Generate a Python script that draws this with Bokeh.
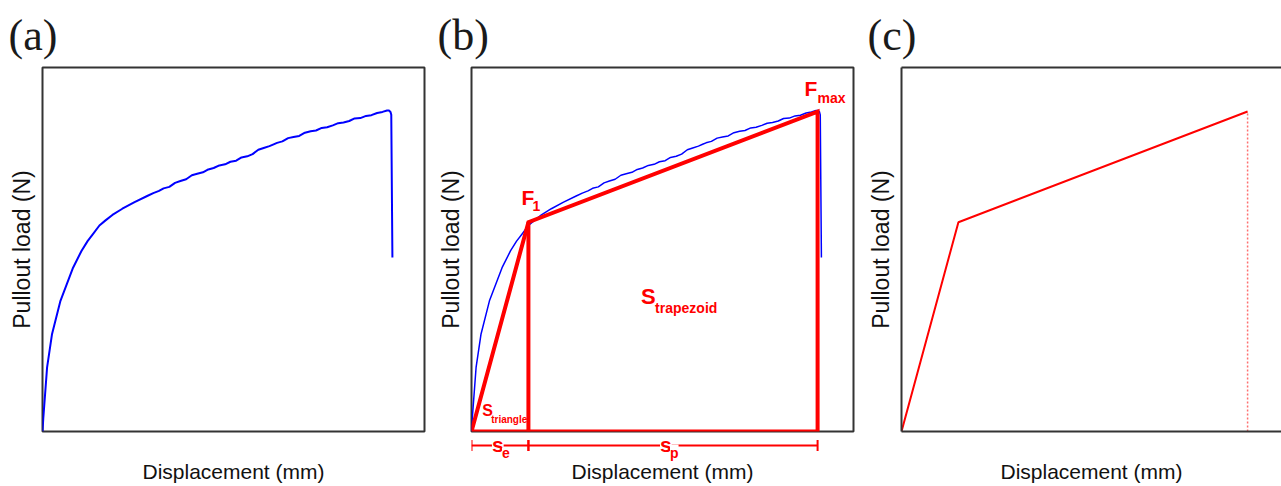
from bokeh.plotting import figure
from bokeh.layouts import row, column
from bokeh.models import FixedTicker, Label, Arrow, TeeHead, Range1d, LinearAxis
from bokeh.embed import file_html
from bokeh.resources import INLINE

# ---------------- data ----------------
panel_labels = ["(a)", "(b)", "(c)"]
x_label = "Displacement (mm)"
y_label = "Pullout load (N)"

# measured pull-out curve (arbitrary units: displacement 0-10, load 0-1000)
disp = [0.00, 0.02, 0.12, 0.25, 0.47, 0.80, 1.02, 1.18, 1.32, 1.49,
        1.65, 1.83, 2.09, 2.41,
        2.74, 2.90, 3.05, 3.17, 3.32, 3.47, 3.61, 3.76, 3.91, 4.05,
        4.20, 4.34, 4.48, 4.63, 4.78, 4.92, 5.07, 5.21, 5.36, 5.50,
        5.65, 5.79, 5.94, 6.05, 6.14, 6.28, 6.43, 6.57, 6.72, 6.87,
        7.02, 7.16, 7.31, 7.45, 7.60, 7.74, 7.88, 8.03, 8.17, 8.32,
        8.47, 8.61, 8.76, 8.90, 9.02, 9.07, 9.11, 9.13, 9.16]
load = [0, 35, 176, 268, 359, 450, 496, 523, 542, 566,
        580, 595, 612, 630,
        647, 655, 661, 668, 672, 683, 688, 693, 704, 708,
        712, 720, 724, 731, 734, 741, 744, 753, 756, 762,
        774, 779, 784, 789, 793, 797, 806, 809, 812, 821,
        825, 827, 834, 836, 841, 847, 849, 853, 860, 861,
        867, 869, 875, 878, 882, 882, 878, 870, 478]

# bilinear idealisation: origin, F1, Fmax
bil_disp = [0.0, 1.49, 9.06]
bil_load = [0.0, 575.0, 879.0]

# ---------------- style ----------------
RED = "#ff0000"
BLUE = "#0000ff"
FRAME = "#333333"
TXT = "#111111"
SANS = "Liberation Sans"
SERIF = "Liberation Serif"
H = 486
TOP, BOTTOM = 66, 55
PX_PER_UNIT = 38.2      # 382 px frame = 10 displacement units
PX_PER_LOAD = 0.365     # 365 px frame = 1000 load units
BASE_PX = 431           # pixel row of load 0


def style_axis(ax, line=None):
    ax.ticker = FixedTicker(ticks=[])
    ax.minor_tick_line_color = None
    ax.major_tick_line_color = None
    ax.major_tick_out = 0
    ax.major_tick_in = 0
    ax.minor_tick_out = 0
    ax.major_label_text_font_size = "0px"
    ax.axis_line_color = line
    ax.axis_line_width = 2
    ax.axis_label_text_font = SANS
    ax.axis_label_text_font_style = "normal"
    ax.axis_label_text_color = TXT


def make_fig(title, width, left, right, frame_w, height=H, bottom=BOTTOM,
             outline=True, xlab=True):
    p = figure(width=width, height=height, title=title,
               x_range=Range1d(0, frame_w / PX_PER_UNIT), y_range=Range1d(0, 1000),
               output_backend="svg", toolbar_location=None,
               min_border_left=left, min_border_right=right,
               min_border_top=TOP, min_border_bottom=bottom)
    p.grid.visible = False
    p.border_fill_color = "white"
    p.outline_line_color = FRAME if outline else None
    p.outline_line_width = 2
    p.title.text_font = SERIF
    p.title.text_font_size = "44px"
    p.title.text_font_style = "normal"
    p.title.text_color = "#1a1a1a"
    p.title.align = "left"
    p.title.offset = -34
    p.title.standoff = 16
    line = None if outline else FRAME
    style_axis(p.xaxis[0], line)
    style_axis(p.yaxis[0], line)
    p.yaxis.axis_label = y_label
    p.yaxis.axis_label_text_font_size = "23px"
    p.yaxis.axis_label_standoff = 8
    if xlab:
        p.xaxis.axis_label = x_label
        p.xaxis.axis_label_text_font_size = "21px"
        p.xaxis.axis_label_standoff = 28
    return p


def put_text(p, x, y, text, size, dx, dy, bg=None, color=RED, bold=True, align="left"):
    lab = Label(x=x, y=y, text=text, x_offset=dx, y_offset=dy + round(0.33 * size),
                text_font=SANS, text_font_style="bold" if bold else "normal",
                text_font_size=f"{size}px",
                text_color=color, text_baseline="alphabetic", text_align=align)
    if bg is not None:
        lab.background_fill_color = bg
    p.add_layout(lab)


def px_to_load(py):
    return (BASE_PX - py) / PX_PER_LOAD


# ---------------- (a) ----------------
pa = make_fig(panel_labels[0], 426, 42, 2, 382)
pa.line(disp, load, line_color=BLUE, line_width=2, line_join="round")

# ---------------- (b) ----------------
pb = make_fig(panel_labels[1], 429, 45, 2, 382, height=433, bottom=2, xlab=False)
pb.line(disp, load, line_color=BLUE, line_width=1.5, line_join="round")
poly_x = bil_disp + [bil_disp[-1], bil_disp[0]]
poly_y = bil_load + [0.0, 0.0]
pb.line(poly_x, poly_y, line_color=RED, line_width=4, line_join="miter")
pb.segment(x0=[bil_disp[1]], y0=[0.0], x1=[bil_disp[1]], y1=[bil_load[1]],
           line_color=RED, line_width=4)

# F1 and Fmax labels
put_text(pb, bil_disp[1], bil_load[1], "F", 21, -7, 18)
put_text(pb, bil_disp[1], bil_load[1], "1", 14, 4, 11)
put_text(pb, bil_disp[2], bil_load[2], "F", 21, -13, 16)
put_text(pb, bil_disp[2], bil_load[2], "max", 14, 0, 9)
# areas
put_text(pb, 4.44, 353, "S", 22, 0, 0)
put_text(pb, 4.44, 353, "trapezoid", 14, 14, -10)
put_text(pb, 0.28, 44, "S", 16, 0, 0)
put_text(pb, 0.28, 44, "triangle", 10, 9, -7)

# strip below (b): dimension lines s_e / s_p and the x label
strip_top_px = 433
strip = figure(width=429, height=H - strip_top_px, x_range=pb.x_range,
               y_range=Range1d(px_to_load(H), px_to_load(strip_top_px)),
               output_backend="svg", toolbar_location=None,
               min_border_left=45, min_border_right=2, min_border_top=0,
               min_border_bottom=0)
strip.grid.visible = False
strip.outline_line_color = None
strip.xaxis.visible = False
strip.yaxis.visible = False

dim_y = px_to_load(445)
for a, b in [(bil_disp[0], bil_disp[1]), (bil_disp[1], bil_disp[2])]:
    strip.add_layout(Arrow(x_start=a, y_start=dim_y, x_end=b, y_end=dim_y,
                           line_color=RED, line_width=2,
                           start=TeeHead(size=11, line_color=RED, line_width=2),
                           end=TeeHead(size=11, line_color=RED, line_width=2)))
mid_e = (bil_disp[0] + bil_disp[1]) / 2
mid_p = (bil_disp[1] + bil_disp[2]) / 2
put_text(strip, mid_e, dim_y, "s", 21, -8, -6, bg="white")
put_text(strip, mid_e, dim_y, "e", 14, 2, -12, bg="white")
put_text(strip, mid_p, dim_y, "s", 21, -13, -6, bg="white")
put_text(strip, mid_p, dim_y, "p", 14, -3, -12, bg="white")
x_mid = pb.x_range.end / 2
put_text(strip, x_mid, px_to_load(478), x_label, 21, 0, 0, color=TXT, bold=False, align="center")

# ---------------- (c) ----------------
pc = make_fig(panel_labels[2], 426, 46, 0, 380, outline=False)
top_ax = LinearAxis()
style_axis(top_ax, FRAME)
pc.add_layout(top_ax, "above")
pc.line(bil_disp, bil_load, line_color=RED, line_width=2)
pc.segment(x0=[bil_disp[-1]], y0=[0.0], x1=[bil_disp[-1]], y1=[bil_load[-1]],
           line_color="#ff7070", line_width=1.5, line_dash="2 2")

layout = row(pa, column(pb, strip, spacing=0), pc, spacing=0)
open("out.html", "w").write(file_html(layout, INLINE))
